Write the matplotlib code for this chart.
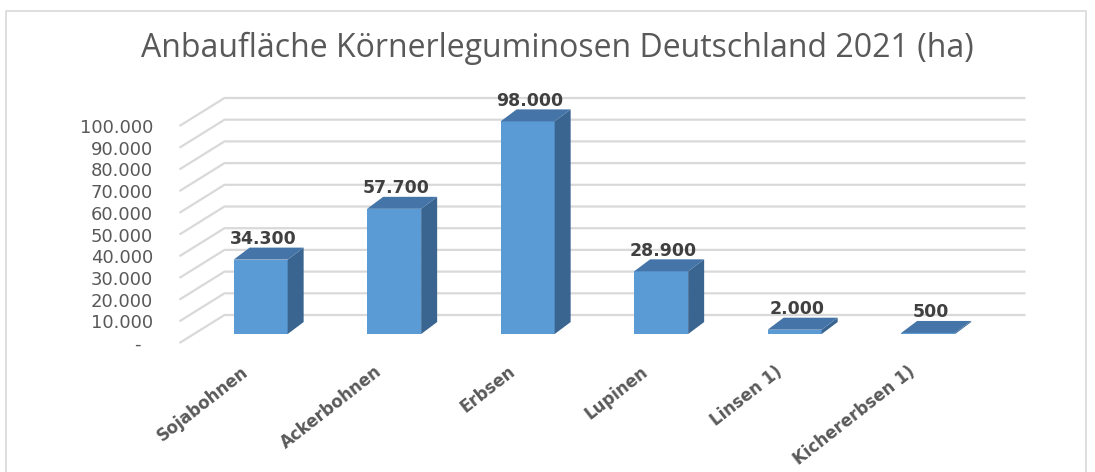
import matplotlib.pyplot as plt
from matplotlib.patches import Rectangle
from matplotlib.transforms import ScaledTranslation

# data
categories = ['Sojabohnen', 'Ackerbohnen', 'Erbsen', 'Lupinen', 'Linsen 1)', 'Kichererbsen 1)']
areas = [34300, 57700, 98000, 28900, 2000, 500]
yticks = [0, 10000, 20000, 30000, 40000, 50000, 60000, 70000, 80000, 90000, 100000]


def de_fmt(v):
    return f"{v:,}".replace(',', '.')


ytick_labels = ['-  '] + [de_fmt(v) for v in yticks[1:]]

W, H = 1095, 472
fig = plt.figure(figsize=(W / 100, H / 100), dpi=100)

# front plane of the pseudo-3D chart, in pixels
PX_CAT = 133.5            # px per category
PX_VAL = 21.7 / 10000     # px per value unit
left_px, bottom_px = 179.5, 343
ax = fig.add_axes([left_px / W, (H - bottom_px) / H,
                   6 * PX_CAT / W, 100000 * PX_VAL / H])
ax.set_xlim(-0.5, 5.5)
ax.set_ylim(0, 100000)

# oblique depth (back wall) and bar offsets, converted to data units
DXW, DYW = 45 / PX_CAT, 28 / PX_VAL
f = 0.32
fx, fy = f * DXW, f * DYW
dxb, dyb = 16 / PX_CAT, 12 / PX_VAL
bw = 54 / PX_CAT

grid_c = '#D9D9D9'
for v in yticks:
    ax.plot([-0.5, -0.5 + DXW, 5.5 + DXW], [v, v + DYW, v + DYW],
            color=grid_c, lw=1.6, clip_on=False, zorder=1,
            solid_capstyle='butt')

front_c, top_c, side_c = '#5B9BD5', '#4575A8', '#3A6590'
xs = [i + fx for i in range(len(categories))]
ax.bar(xs, areas, width=bw, bottom=fy, color=front_c, zorder=3,
       clip_on=False)
for x, v in zip(xs, areas):
    xl, xr = x - bw / 2, x + bw / 2
    b, t = fy, fy + v
    ax.fill([xr, xr + dxb, xr + dxb, xr], [b, b + dyb, t + dyb, t],
            color=side_c, zorder=3, clip_on=False, lw=0)
    ax.fill([xl, xl + dxb, xr + dxb, xr], [t, t + dyb, t + dyb, t],
            color=top_c, zorder=3, clip_on=False, lw=0)
    ax.annotate(de_fmt(v), xy=(x + dxb * 0.15, t + dyb), xytext=(0, 2.5),
                textcoords='offset points', ha='center', va='baseline',
                fontsize=12.5, fontweight='bold', color='#404040',
                annotation_clip=False, zorder=5)

ax.set_yticks(yticks)
ax.set_yticklabels(ytick_labels, fontsize=13, color='#595959')
ax.set_xticks(range(len(categories)))
ax.set_xticklabels(categories, rotation=38, ha='right', va='top',
                   rotation_mode='anchor', fontsize=12,
                   fontweight='bold', color='#595959')
ax.tick_params(axis='y', length=0, pad=19)
ax.tick_params(axis='x', length=0, pad=14)
shift = ScaledTranslation(-6 / 100, 0, fig.dpi_scale_trans)
for lab in ax.get_xticklabels():
    lab.set_transform(lab.get_transform() + shift)
for s in ax.spines.values():
    s.set_visible(False)
ax.patch.set_visible(False)

fig.text(557 / W, 1 - 48 / H, 'Anbaufläche Körnerleguminosen Deutschland 2021 (ha)',
         ha='center', va='center', fontsize=23, color='#595959',
         family='Open Sans')

fig.add_artist(Rectangle((6 / W, -0.1), 1080 / W, 1.1 - 11 / H,
                         transform=fig.transFigure, fill=False,
                         ec='#D9D9D9', lw=1.2))

fig.savefig('out.png', dpi=100)
